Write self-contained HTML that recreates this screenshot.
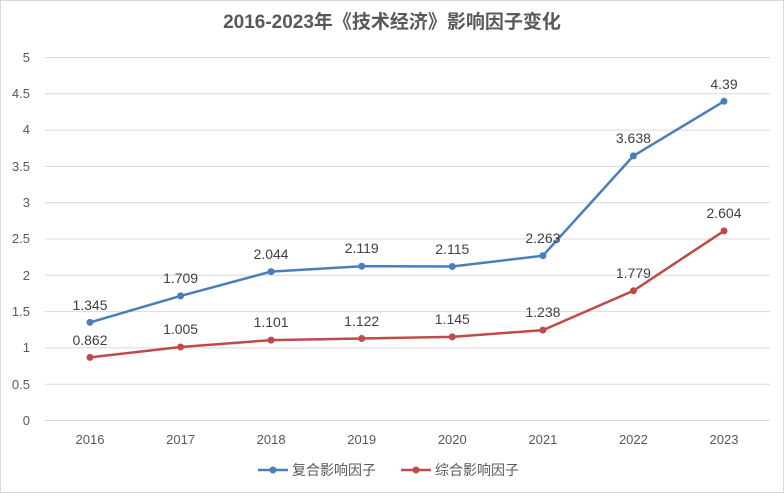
<!DOCTYPE html>
<html><head><meta charset="utf-8"><style>
body{margin:0;background:#fff}
svg text{font-family:"Liberation Sans","Noto Sans CJK SC",sans-serif}
</style></head><body>
<svg width="784" height="493" xmlns="http://www.w3.org/2000/svg">
<rect x="0.5" y="0.5" width="783" height="492" fill="#fff" stroke="#d9d9d9"/>
<text x="392" y="28" text-anchor="middle" font-size="19" font-weight="bold" fill="#595959">2016-2023年《技术经济》影响因子变化</text>
<g stroke="#d9d9d9" stroke-width="1">
<line x1="45" x2="770" y1="420.5" y2="420.5"/>
<line x1="45" x2="770" y1="384.2" y2="384.2"/>
<line x1="45" x2="770" y1="347.9" y2="347.9"/>
<line x1="45" x2="770" y1="311.6" y2="311.6"/>
<line x1="45" x2="770" y1="275.3" y2="275.3"/>
<line x1="45" x2="770" y1="239" y2="239"/>
<line x1="45" x2="770" y1="202.7" y2="202.7"/>
<line x1="45" x2="770" y1="166.4" y2="166.4"/>
<line x1="45" x2="770" y1="130.1" y2="130.1"/>
<line x1="45" x2="770" y1="93.8" y2="93.8"/>
<line x1="45" x2="770" y1="57.5" y2="57.5"/>
</g>
<g font-size="13" fill="#595959" text-anchor="end">
<text x="30" y="425">0</text><text x="30" y="389">0.5</text><text x="30" y="352">1</text>
<text x="30" y="316">1.5</text><text x="30" y="280">2</text><text x="30" y="243">2.5</text>
<text x="30" y="207">3</text><text x="30" y="171">3.5</text><text x="30" y="134">4</text>
<text x="30" y="98">4.5</text><text x="30" y="62">5</text>
</g>
<g font-size="13" fill="#595959" text-anchor="middle">
<text x="90" y="444">2016</text><text x="180.6" y="444">2017</text><text x="271.1" y="444">2018</text>
<text x="361.7" y="444">2019</text><text x="452.3" y="444">2020</text><text x="542.9" y="444">2021</text>
<text x="633.4" y="444">2022</text><text x="724" y="444">2023</text>
</g>
<polyline fill="none" stroke="#4a7ebb" stroke-width="2.5" points="90,322.4 180.6,295.9 271.1,271.6 361.7,266.2 452.3,266.5 542.9,255.7 633.4,155.9 724,101.3"/>
<polyline fill="none" stroke="#be4b48" stroke-width="2.5" points="90,357.4 180.6,347 271.1,340.1 361.7,338.5 452.3,336.9 542.9,330.1 633.4,290.8 724,230.9"/>
<g fill="#4a7ebb">
<circle cx="90" cy="322.4" r="3.5"/><circle cx="180.6" cy="295.9" r="3.5"/><circle cx="271.1" cy="271.6" r="3.5"/><circle cx="361.7" cy="266.2" r="3.5"/><circle cx="452.3" cy="266.5" r="3.5"/><circle cx="542.9" cy="255.7" r="3.5"/><circle cx="633.4" cy="155.9" r="3.5"/><circle cx="724" cy="101.3" r="3.5"/>
</g>
<g fill="#be4b48">
<circle cx="90" cy="357.4" r="3.5"/><circle cx="180.6" cy="347" r="3.5"/><circle cx="271.1" cy="340.1" r="3.5"/><circle cx="361.7" cy="338.5" r="3.5"/><circle cx="452.3" cy="336.9" r="3.5"/><circle cx="542.9" cy="330.1" r="3.5"/><circle cx="633.4" cy="290.8" r="3.5"/><circle cx="724" cy="230.9" r="3.5"/>
</g>
<g font-size="14" fill="#404040" text-anchor="middle">
<text x="90" y="310">1.345</text><text x="180.6" y="283">1.709</text><text x="271.1" y="259">2.044</text>
<text x="361.7" y="253">2.119</text><text x="452.3" y="254">2.115</text><text x="542.9" y="243">2.263</text>
<text x="633.4" y="143">3.638</text><text x="724" y="89">4.39</text>
<text x="90" y="345">0.862</text><text x="180.6" y="334">1.005</text><text x="271.1" y="327">1.101</text>
<text x="361.7" y="326">1.122</text><text x="452.3" y="324">1.145</text><text x="542.9" y="317">1.238</text>
<text x="633.4" y="278">1.779</text><text x="724" y="218">2.604</text>
</g>
<line x1="258" x2="288" y1="470" y2="470" stroke="#4a7ebb" stroke-width="2.5"/>
<circle cx="273" cy="470" r="3.5" fill="#4a7ebb"/>
<text x="292" y="475" font-size="14" fill="#595959">复合影响因子</text>
<line x1="401" x2="431" y1="470" y2="470" stroke="#be4b48" stroke-width="2.5"/>
<circle cx="416" cy="470" r="3.5" fill="#be4b48"/>
<text x="435" y="475" font-size="14" fill="#595959">综合影响因子</text>
</svg>
</body></html>
